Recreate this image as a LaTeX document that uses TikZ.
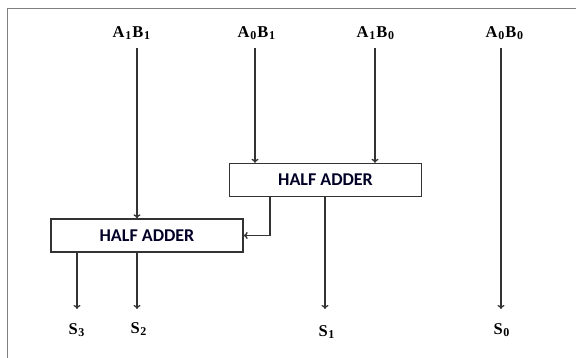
\documentclass[tikz,border=0pt]{standalone}
\usepackage{fontspec}
\setmainfont{Liberation Serif}
\newfontfamily\hafont{Carlito}
\usetikzlibrary{arrows.meta}
\newcommand\lsub[1]{\kern0.6pt{\fontsize{12}{12}\selectfont\raisebox{-1.8pt}{#1}}\kern1.2pt}
\tikzset{
  lbl/.style={font=\fontsize{16.5}{16.5}\selectfont\bfseries, inner sep=0pt, anchor=center},
  habox/.style={draw=black!80, line width=1.3pt, minimum width=192pt, minimum height=33pt, inner sep=0pt, font=\hafont\fontsize{18}{18}\selectfont\bfseries, text=black!85!blue},
  arr/.style={draw=black!80, line width=1.3pt, -{To[length=4pt,width=7pt]}},
  frame/.style={draw=black!50}
}
\begin{document}
\begin{tikzpicture}[x=1pt,y=-1pt]
\useasboundingbox[fill=white] (0,0) rectangle (576,358);
\draw[frame, line width=0.8pt] (7,8) -- (576,8);
\draw[frame, line width=1.8pt] (7.5,8) -- (7.5,358);
% labels
\node[lbl] (a11) at (132,33) {A\lsub{1}B\lsub{1}};
\node[lbl] (a01) at (257,33) {A\lsub{0}B\lsub{1}};
\node[lbl] (a10) at (376,33) {A\lsub{1}B\lsub{0}};
\node[lbl] (a00) at (505,33) {A\lsub{0}B\lsub{0}};
% boxes
\node[habox] (ha1) at (325.5,180) {HALF ADDER};
\node[habox] (ha2) at (147,235.5) {HALF ADDER};
% outputs
\node[lbl] (s3) at (77,330) {S\lsub{3}};
\node[lbl] (s2) at (139,329) {S\lsub{2}};
\node[lbl] (s1) at (327,332) {S\lsub{1}};
\node[lbl] (s0) at (502,330) {S\lsub{0}};
% arrow start/end coordinates
\coordinate (t11) at (137,48);
\coordinate (t01) at (255,48);
\coordinate (t10) at (375,48);
\coordinate (t00) at (501,48);
\coordinate (e3) at (77,309);
\coordinate (e2) at (137,309);
\coordinate (e1) at (325,309);
\coordinate (e0) at (501,309);
\coordinate (bend) at (270,235.5);
% connectors
\draw[arr] (t11) -- (ha2.north -| t11);
\draw[arr] (t01) -- (ha1.north -| t01);
\draw[arr] (t10) -- (ha1.north -| t10);
\draw[arr] (t00) -- (e0);
\draw[arr] (ha1.south -| bend) -- (bend) -- (ha2.east);
\draw[arr] (ha1.south -| e1) -- (e1);
\draw[arr] (ha2.south -| e3) -- (e3);
\draw[arr] (ha2.south -| e2) -- (e2);
\end{tikzpicture}
\end{document}
